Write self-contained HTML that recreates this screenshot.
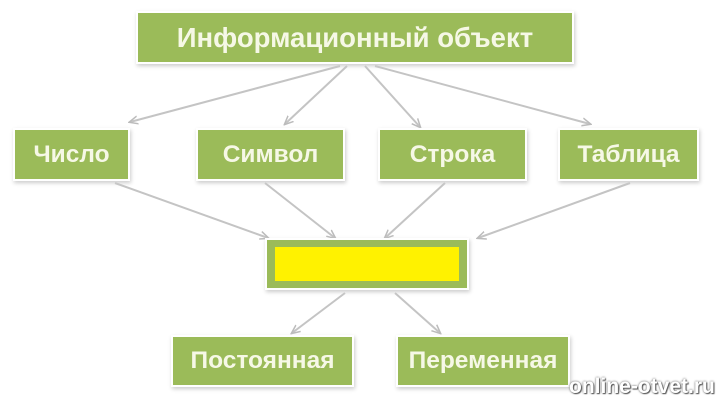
<!DOCTYPE html>
<html><head><meta charset="utf-8"><style>
body{margin:0;width:718px;height:400px;background:#fff;position:relative;overflow:hidden;font-family:"Liberation Sans",sans-serif}
.b{position:absolute;background:#9bbb59;color:#f6f8e6;font-weight:bold;display:flex;align-items:center;justify-content:center;box-shadow:0 0 0 2px #fff,1px 2px 4px 2px #ccc;font-size:24.5px;white-space:nowrap}
svg{position:absolute;left:0;top:0}
.wm{position:absolute;left:569px;top:375px;font-size:21px;font-weight:bold;color:#fff;text-shadow:0 0 2px #555,1px 1px 1px #555}
</style></head><body>
<svg width="718" height="400"><defs><marker id="a" markerWidth="10" markerHeight="10" refX="8" refY="5" orient="auto" markerUnits="userSpaceOnUse"><path d="M0,1 L9,5 L0,9" fill="none" stroke="#bbb" stroke-width="1.5"/></marker></defs>
<g stroke="#c4c4c4" stroke-width="2" fill="none" marker-end="url(#a)">
<path d="M340,66 L130,122"/><path d="M347,66 L285,124"/><path d="M365,66 L420,127"/><path d="M375,66 L590,124"/>
<path d="M115,183 L268,238"/><path d="M265,183 L335,238"/><path d="M445,183 L385,238"/><path d="M630,183 L478,238"/>
<path d="M345,293 L292,333"/><path d="M395,293 L440,333"/>
</g></svg>
<div class="b" style="left:138px;top:13px;width:434px;height:49px;font-size:27.5px">Информационный объект</div>
<div class="b" style="left:15px;top:130px;width:113px;height:49px">Число</div>
<div class="b" style="left:198px;top:130px;width:145px;height:49px">Символ</div>
<div class="b" style="left:380px;top:130px;width:145px;height:49px">Строка</div>
<div class="b" style="left:560px;top:130px;width:137px;height:49px">Таблица</div>
<div class="b" style="left:267px;top:240px;width:200px;height:48px"><div style="width:184px;height:34px;background:#fff200"></div></div>
<div class="b" style="left:173px;top:337px;width:179px;height:48px">Постоянная</div>
<div class="b" style="left:398px;top:337px;width:170px;height:48px">Переменная</div>
<div class="wm">online-otvet.ru</div>
</body></html>
